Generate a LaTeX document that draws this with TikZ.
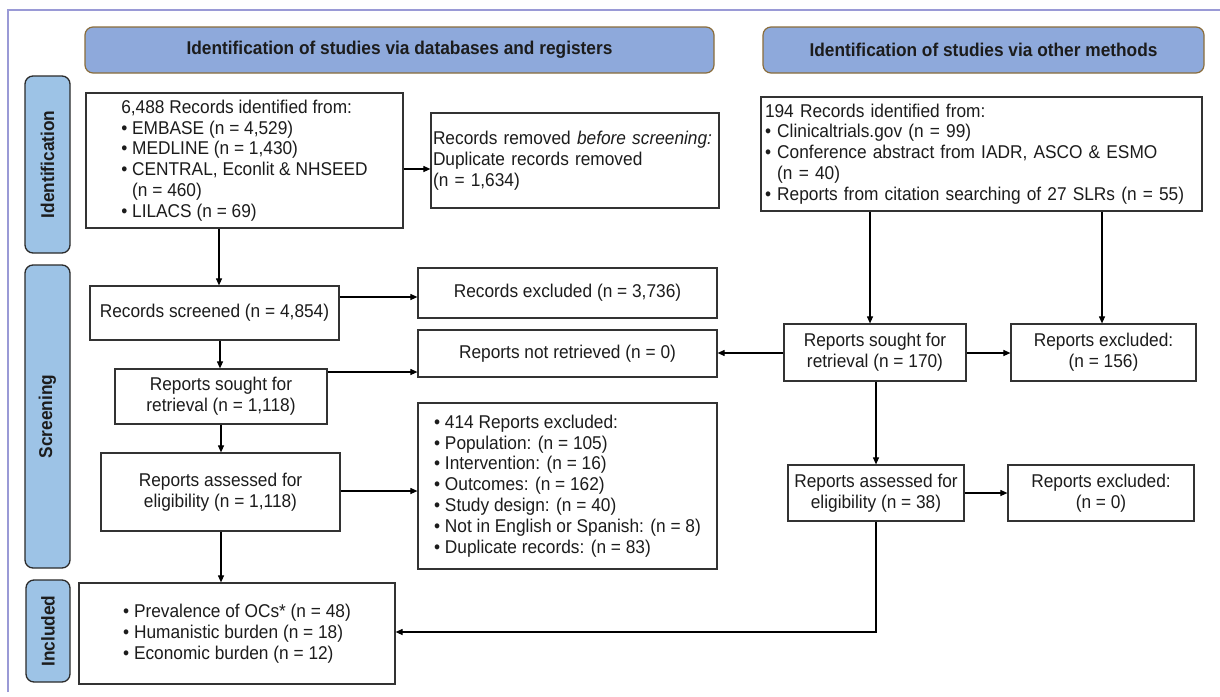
\documentclass[tikz,border=0pt]{standalone}
\usepackage{fontspec}
\setmainfont{Liberation Sans}[FakeStretch=0.935]
\usetikzlibrary{arrows.meta}
\definecolor{framecol}{HTML}{9A9AD6}
\definecolor{headfill}{HTML}{8EA9DB}
\definecolor{headdraw}{HTML}{8A6D3B}
\definecolor{sidefill}{HTML}{9DC3E6}
\definecolor{sidedraw}{HTML}{2B2B2B}
\definecolor{boxdraw}{HTML}{333333}
\definecolor{txt}{HTML}{1C1C1C}
\newcommand\bul{\textbullet\ }
\newcommand\fs{\fontsize{18.5}{20.8}\selectfont}
\begin{document}
\begin{tikzpicture}[x=1pt,y=-1pt,
  every node/.style={font=\fs, text=txt},
  header/.style={draw=headdraw, fill=headfill, line width=1.2pt, rounded corners=8pt,
    font=\fs\bfseries, inner sep=0pt},
  side/.style={draw=sidedraw, fill=sidefill, line width=1.3pt, rounded corners=8pt,
    rotate=90, font=\fs\bfseries, inner sep=0pt},
  stagebox/.style={draw=boxdraw, fill=white, line width=1.2pt, inner sep=0pt, align=center},
  conn/.style={draw=black, line width=1.1pt, -{Triangle[length=7pt,width=6pt]}}
]
\useasboundingbox (0,0) rectangle (1220,696);
\fill[white] (0,0) rectangle (1220,696);
\draw[framecol, line width=1.5pt] (8,692) -- (8,10) -- (1220,10);

% headers
\node[header, minimum width=629pt, minimum height=46pt] (h1) at (399.5,50)
  {Identification of studies via databases and registers};
\node[header, minimum width=441pt, minimum height=46pt] (h2) at (983.5,50)
  {Identification of studies via other methods};

% side labels
\node[side, minimum width=177pt, minimum height=45pt] (sid) at (47.5,164.5) {Identification};
\node[side, minimum width=303pt, minimum height=45pt] (sscr) at (47.5,416.5) {Screening};
\node[side, minimum width=102pt, minimum height=44pt] (sinc) at (48,631) {Included};

% left column
\node[stagebox, minimum width=317pt, minimum height=135pt, align=left] (A) at (244.5,160.5)
  {6,488 Records identified from:\\ \bul EMBASE (n = 4,529)\\ \bul MEDLINE (n = 1,430)\\
   \bul CENTRAL, Econlit \& NHSEED\\ \phantom{\bul}(n = 460)\\ \bul LILACS (n = 69)};
\node[stagebox, minimum width=288pt, minimum height=95pt, text width=284pt, align=left] (B) at (575,160.5)
  {Records removed \textit{before screening:}\\ Duplicate records removed\\ (n = 1,634)};
\node[stagebox, minimum width=249pt, minimum height=54pt] (scr) at (214.5,313) {Records screened (n = 4,854)};
\node[stagebox, minimum width=299pt, minimum height=50pt] (rex) at (567.5,293) {Records excluded (n = 3,736)};
\node[stagebox, minimum width=299pt, minimum height=47pt] (nret) at (567.5,353.5) {Reports not retrieved (n = 0)};
\node[stagebox, minimum width=212pt, minimum height=55pt] (sl) at (221,396.5) {Reports sought for\\ retrieval (n = 1,118)};
\node[stagebox, minimum width=299pt, minimum height=166pt, align=left] (exl) at (567.5,486)
  {\bul 414 Reports excluded:\\ \bul Population: (n = 105)\\ \bul Intervention: (n = 16)\\
   \bul Outcomes: (n = 162)\\ \bul Study design: (n = 40)\\ \bul Not in English or Spanish: (n = 8)\\
   \bul Duplicate records: (n = 83)};
\node[stagebox, minimum width=239pt, minimum height=78pt] (al) at (220.5,492) {Reports assessed for\\ eligibility (n = 1,118)};
\node[stagebox, minimum width=316pt, minimum height=101pt, align=left] (inc) at (237,633.5)
  {\bul Prevalence of OCs* (n = 48)\\ \bul Humanistic burden (n = 18)\\ \bul Economic burden (n = 12)};

% right column
\node[stagebox, minimum width=441pt, minimum height=114pt, text width=433pt, align=left] (C) at (981.5,154)
  {194 Records identified from:\\ \bul Clinicaltrials.gov (n = 99)\\ \bul Conference abstract from IADR, ASCO \& ESMO\\
   \phantom{\bul}(n = 40)\\ \bul Reports from citation searching of 27 SLRs (n = 55)};
\node[stagebox, minimum width=182pt, minimum height=57pt] (sr) at (875,352.5) {Reports sought for\\ retrieval (n = 170)};
\node[stagebox, minimum width=185pt, minimum height=57pt] (exa) at (1103.5,352.5) {Reports excluded:\\ (n = 156)};
\node[stagebox, minimum width=176pt, minimum height=56pt] (ar) at (876,493) {Reports assessed for\\ eligibility (n = 38)};
\node[stagebox, minimum width=186pt, minimum height=56pt] (exb) at (1101,493) {Reports excluded:\\ (n = 0)};

% helper coordinates for connector lines
\coordinate (xa) at (219,0);
\coordinate (xb) at (220,0);
\coordinate (xc) at (221,0);
\coordinate (xd) at (870,0);
\coordinate (xe) at (1102,0);
\coordinate (xf) at (876,0);
\coordinate (yab) at (0,169);
\coordinate (ysr) at (0,297);
\coordinate (ynr) at (0,372);
\coordinate (yex) at (0,491);
\coordinate (ysr2) at (0,353);
\coordinate (yar) at (0,493);
\coordinate (yin) at (0,632);

% connectors
\draw[conn] (A.south -| xa) -- (scr.north -| xa);
\draw[conn] (A.east |- yab) -- (B.west |- yab);
\draw[conn] (scr.east |- ysr) -- (rex.west |- ysr);
\draw[conn] (scr.south -| xb) -- (sl.north -| xb);
\draw[conn] (sl.east |- ynr) -- (nret.west |- ynr);
\draw[conn] (sl.south -| xc) -- (al.north -| xc);
\draw[conn] (al.east |- yex) -- (exl.west |- yex);
\draw[conn] (al.south -| xc) -- (inc.north -| xc);
\draw[conn] (C.south -| xd) -- (sr.north -| xd);
\draw[conn] (C.south -| xe) -- (exa.north -| xe);
\draw[conn] (sr.west |- ysr2) -- (nret.east |- ysr2);
\draw[conn] (sr.east |- ysr2) -- (exa.west |- ysr2);
\draw[conn] (sr.south -| xf) -- (ar.north -| xf);
\draw[conn] (ar.east |- yar) -- (exb.west |- yar);
\draw[conn] (ar.south -| xf) -- (xf |- yin) -- (inc.east |- yin);
\end{tikzpicture}
\end{document}
